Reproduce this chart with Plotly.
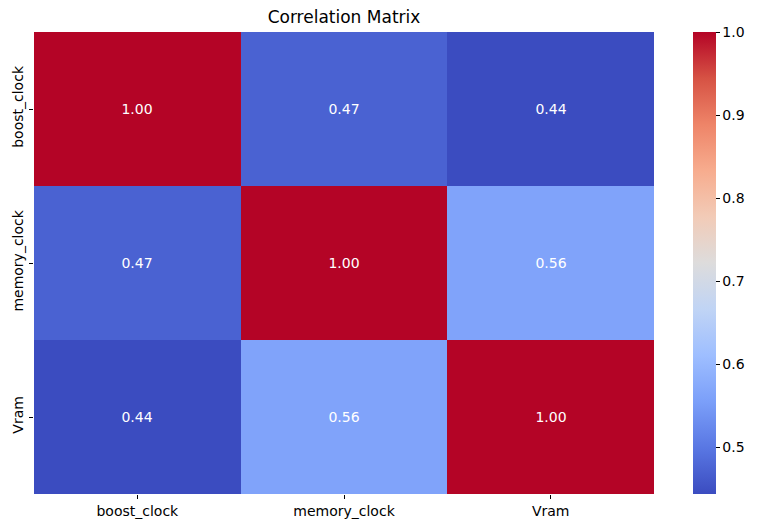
import plotly.graph_objects as go

labels = ["boost_clock", "memory_clock", "Vram"]
corr = [
    [1.00, 0.472, 0.444],
    [0.472, 1.00, 0.563],
    [0.444, 0.563, 1.00],
]
cbar_ticks = [0.5, 0.6, 0.7, 0.8, 0.9, 1.0]

# matplotlib "coolwarm" sampled at 11 points
coolwarm = ["#3b4cc0", "#5977e3", "#7b9ff9", "#9ebeff", "#c0d4f5", "#dddcdc",
            "#f2cbb7", "#f7ac8e", "#ee8468", "#d65244", "#b40426"]
colorscale = [[i / 10, c] for i, c in enumerate(coolwarm)]

zmin = min(min(r) for r in corr)
zmax = max(max(r) for r in corr)

# page has an 8px body margin, margins below are compensated for it
fig = go.Figure(go.Heatmap(
    z=corr, x=labels, y=labels,
    colorscale=colorscale, zmin=zmin, zmax=zmax,
    texttemplate="%{z:.2f}",
    textfont=dict(color="white", size=14, family="DejaVu Sans"),
    colorbar=dict(
        x=1.063, xanchor="left", y=0.5, yanchor="middle",
        len=1, lenmode="fraction", thickness=23, thicknessmode="pixels",
        ypad=0, xpad=0,
        outlinewidth=0, tickvals=cbar_ticks, tickformat=".1f",
        ticks="outside", ticklen=4, tickcolor="black",
        tickfont=dict(size=14, color="black", family="DejaVu Sans"),
    ),
    hoverongaps=False,
))

fig.update_layout(
    width=757, height=528,
    margin=dict(l=26, r=111, t=24, b=42, autoexpand=False),
    paper_bgcolor="white", plot_bgcolor="white",
    font=dict(family="DejaVu Sans", color="black", size=14),
    title=dict(text="Correlation Matrix", x=336 / 757, xanchor="center",
               y=1 - 9 / 528, yanchor="middle",
               font=dict(size=17, color="black")),
)
fig.update_xaxes(showgrid=False, zeroline=False, showline=False,
                 automargin=False,
                 ticks="outside", ticklen=4, tickcolor="black",
                 tickfont=dict(size=14))
fig.update_yaxes(showgrid=False, zeroline=False, showline=False,
                 automargin=False,
                 autorange="reversed", tickangle=-90,
                 ticks="outside", ticklen=4, tickcolor="black",
                 tickfont=dict(size=14))

fig.write_html("out.html")
